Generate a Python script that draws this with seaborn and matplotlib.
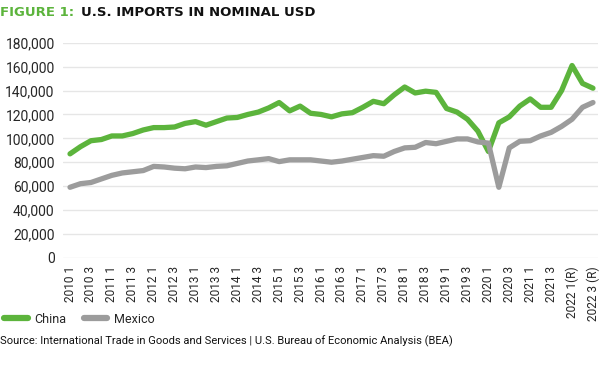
import numpy as np
import pandas as pd
import matplotlib
matplotlib.use("Agg")
import matplotlib.pyplot as plt
import seaborn as sns
from matplotlib.lines import Line2D

# quarterly US imports, millions USD
china = [87, 93, 98, 99, 102, 102, 104, 107, 109, 109, 109.5, 112.5,
         114, 111, 114, 117, 117.5, 120, 122, 125.5, 130, 123, 127, 121,
         120, 118, 120.5, 121.5, 126, 131, 129, 136.5, 143, 138, 139.5, 138.5,
         125, 122, 116, 106, 89, 113, 118, 127, 133, 126, 126, 140,
         161, 146, 142]
mexico = [59, 62, 63, 66, 69, 71, 72, 73, 76.5, 76, 75, 74.5,
          76, 75.5, 76.5, 77, 79, 81, 82, 83, 80.5, 82, 82, 82,
          81, 80, 81, 82.5, 84, 85.5, 85, 89, 92, 92.5, 96.5, 95.5,
          97.5, 99.5, 99.5, 97, 96, 59, 92, 97.5, 98, 102, 105, 110,
          116, 126, 130]
years = list(range(2010, 2023))
quarters = [f"{y} {q}" for y in years for q in range(1, 5)][:len(china)]
tick_labels = [q + ("(R)" if q == "2022 1" else " (R)" if q == "2022 3" else "")
               for q in quarters[::2]]

df = pd.DataFrame({
    "idx": list(range(len(china))) * 2,
    "value": [v * 1000 for v in china] + [v * 1000 for v in mexico],
    "country": ["China"] * len(china) + ["Mexico"] * len(mexico),
})

sns.set_style("white")
plt.rcParams["font.family"] = ["Roboto", "DejaVu Sans"]

green = "#5cb43c"
grey = "#9c9c9c"

fig = plt.figure(figsize=(6, 3.79), dpi=100)
ax = fig.add_axes([0.105, 0.32, 0.892, 0.567])

sns.lineplot(data=df, x="idx", y="value", hue="country",
             palette={"China": green, "Mexico": grey}, linewidth=3.8,
             ax=ax, legend=False)
for ln in ax.lines:
    ln.set_solid_capstyle("round")
    ln.set_solid_joinstyle("round")

ax.set_ylim(0, 180000)
ax.set_yticks(np.arange(0, 180001, 20000))
ax.set_yticklabels([f"{v:,}" for v in range(0, 180001, 20000)], fontsize=10)
ax.set_xlim(-0.67, 50.5)
ax.set_xticks(range(0, len(china), 2))
ax.set_xticklabels(tick_labels, rotation=90, fontsize=8.6)
ax.tick_params(length=0, pad=6)
ax.grid(axis="y", color="#e6e6e6", linewidth=1)
ax.set_axisbelow(True)
for s in ax.spines.values():
    s.set_visible(False)
ax.set_xlabel("")
ax.set_ylabel("")

# legend
handles = [Line2D([], [], color=green, lw=4.5, solid_capstyle="round"),
           Line2D([], [], color=grey, lw=4.5, solid_capstyle="round")]
fig.legend(handles, ["China", "Mexico"], loc="center left",
           bbox_to_anchor=(-0.012, 0.158), ncol=2, frameon=False,
           handlelength=1.9, handletextpad=0.5, columnspacing=1.4,
           prop={"size": 9})

# title
fig.text(0.0, 0.968, "FIGURE 1:", color=green, fontsize=9.5,
         fontweight="bold", family="DejaVu Sans", va="center")
fig.text(0.135, 0.968, "U.S. IMPORTS IN NOMINAL USD", color="#111111",
         fontsize=9.5, fontweight="bold", family="DejaVu Sans", va="center")

fig.text(0.0, 0.1, "Source: International Trade in Goods and Services | "
         "U.S. Bureau of Economic Analysis (BEA)", fontsize=8,
         va="center", color="#111111")

fig.savefig("out.png", dpi=100)
